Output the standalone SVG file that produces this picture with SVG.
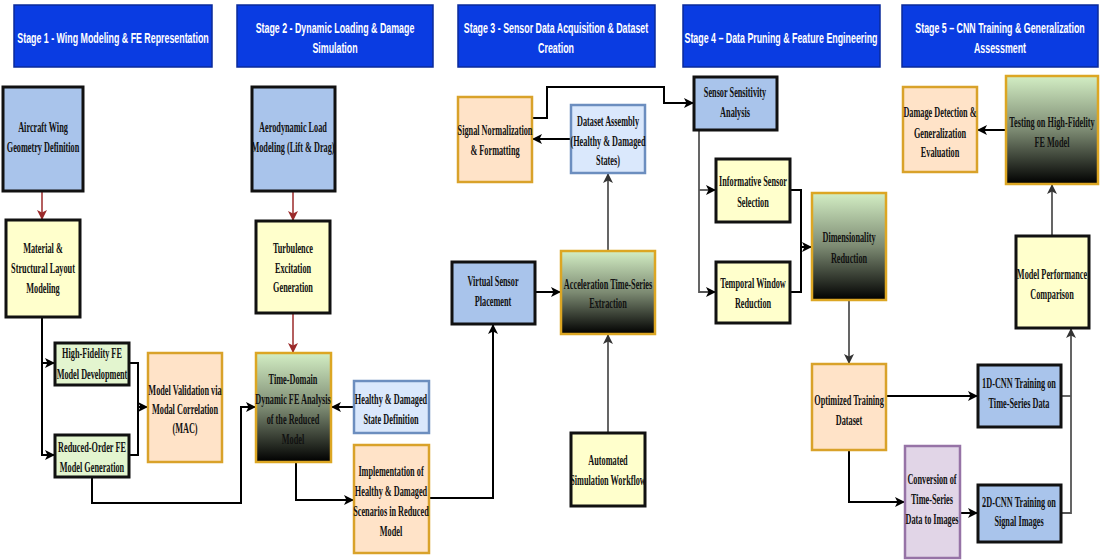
<svg xmlns="http://www.w3.org/2000/svg" width="1100" height="560" viewBox="0 0 1100 560">
<style>
.hdr{fill:#0a3ce2;stroke:#0a2a9a;stroke-width:1.5}
.ht{font-family:"Liberation Sans",Arial,sans-serif;font-weight:bold;font-size:15px;fill:#fff;text-anchor:middle}
.t{font-family:"Liberation Serif","Times New Roman",serif;font-weight:bold;font-size:15px;fill:#111;text-anchor:middle}
.blue{fill:#a9c4eb;stroke:#111;stroke-width:3}
.yel{fill:#ffffcc;stroke:#111;stroke-width:3}
.grn{fill:#e3f5cf;stroke:#111;stroke-width:3}
.peach{fill:#ffe3c8;stroke:#d9a22a;stroke-width:2.5}
.lblue{fill:#dae8fc;stroke:#6c8ebf;stroke-width:2.5}
.purp{fill:#e1d5e7;stroke:#9673a6;stroke-width:2.5}
.grad{fill:url(#g1);stroke:#dca623;stroke-width:2.5}
.c{fill:none;stroke:#000;stroke-width:2}
.cg{fill:none;stroke:#555;stroke-width:1.8}
.cr{fill:none;stroke:#9b2a2a;stroke-width:1.5}
</style>
<defs>
<linearGradient id="g1" x1="0" y1="0" x2="0" y2="1">
<stop offset="0" stop-color="#d3eec4"/>
<stop offset="0.5" stop-color="#7c8a72"/>
<stop offset="1" stop-color="#000"/>
</linearGradient>
<marker id="ab" markerUnits="userSpaceOnUse" markerWidth="11" markerHeight="11" refX="10" refY="5.5" orient="auto"><path d="M0,0.5 L10,5.5 L0,10.5 L2.5,5.5 z" fill="#000"/></marker>
<marker id="ag" markerUnits="userSpaceOnUse" markerWidth="11" markerHeight="11" refX="10" refY="5.5" orient="auto"><path d="M0,0.5 L10,5.5 L0,10.5 L2.5,5.5 z" fill="#333"/></marker>
<marker id="ar" markerUnits="userSpaceOnUse" markerWidth="11" markerHeight="11" refX="10" refY="5.5" orient="auto"><path d="M0,0.5 L10,5.5 L0,10.5 L2.5,5.5 z" fill="#9b2a2a"/></marker>
</defs>
<rect width="1100" height="560" fill="#fff"/>

<g id="headers">
<g id="h1"><rect class="hdr" x="14" y="5" width="198" height="62"/><text class="ht" transform="translate(113,0) scale(0.59,1)"><tspan x="0" y="43">Stage 1 - Wing Modeling &amp; FE Representation</tspan></text></g>
<g id="h2"><rect class="hdr" x="237" y="5" width="196" height="62"/><text class="ht" transform="translate(335,0) scale(0.59,1)"><tspan x="0" y="33">Stage 2 - Dynamic Loading &amp; Damage</tspan><tspan x="0" y="53">Simulation</tspan></text></g>
<g id="h3"><rect class="hdr" x="458" y="5" width="197" height="62"/><text class="ht" transform="translate(556,0) scale(0.59,1)"><tspan x="0" y="33">Stage 3 - Sensor Data Acquisition &amp; Dataset</tspan><tspan x="0" y="53">Creation</tspan></text></g>
<g id="h4"><rect class="hdr" x="683" y="5" width="197" height="62"/><text class="ht" transform="translate(781,0) scale(0.59,1)"><tspan x="0" y="43">Stage 4 – Data Pruning &amp; Feature Engineering</tspan></text></g>
<g id="h5"><rect class="hdr" x="902" y="5" width="196" height="62"/><text class="ht" transform="translate(1000,0) scale(0.59,1)"><tspan x="0" y="33">Stage 5 – CNN Training &amp; Generalization</tspan><tspan x="0" y="53">Assessment</tspan></text></g>
</g>

<g id="connectors">
<path class="cr" d="M42,191 V220" marker-end="url(#ar)"/>
<path class="cr" d="M293,191 V221" marker-end="url(#ar)"/>
<path class="cr" d="M293,313 V353" marker-end="url(#ar)"/>
<path class="c" d="M42,317 V455 H55" marker-end="url(#ab)"/>
<path class="c" d="M42,363 H55" marker-end="url(#ab)"/>
<path class="c" d="M129,363 H138 V455 H129"/>
<path class="c" d="M138,407 H148" marker-end="url(#ab)"/>
<path class="c" d="M92,477 V503 H241 V407 H256" marker-end="url(#ab)"/>
<path class="c" d="M354,407 H331" marker-end="url(#ab)"/>
<path class="c" d="M296,462 V500 H354" marker-end="url(#ab)"/>
<path class="c" d="M429,498 H493 V324" marker-end="url(#ab)"/>
<path class="c" d="M535,292 H561" marker-end="url(#ab)"/>
<path class="cg" d="M608,433 V334" marker-end="url(#ag)"/>
<path class="cg" d="M608,251 V173" marker-end="url(#ag)"/>
<path class="c" d="M571,139 H532" marker-end="url(#ab)"/>
<path class="c" d="M532,118 H547 V87 H664 V103 H694" marker-end="url(#ab)"/>
<path class="cg" d="M699,130 V292 H716" marker-end="url(#ab)"/>
<path class="cg" d="M699,190 H716" marker-end="url(#ab)"/>
<path class="c" d="M790,190 H801 V292 H790"/>
<path class="c" d="M801,247 H812" marker-end="url(#ab)"/>
<path class="cg" d="M849,300 V364" marker-end="url(#ag)"/>
<path class="c" d="M886,396 H978" marker-end="url(#ab)"/>
<path class="c" d="M849,450 V502 H905" marker-end="url(#ab)"/>
<path class="c" d="M960,513 H978" marker-end="url(#ab)"/>
<path class="cg" d="M1061,396 H1071"/>
<path class="cg" d="M1061,513 H1071 V328" marker-end="url(#ag)"/>
<path class="cg" d="M1052,236 V184" marker-end="url(#ag)"/>
<path class="c" d="M1006,130 H977" marker-end="url(#ab)"/>
</g>

<g id="n_wing"><rect class="blue" x="3" y="87" width="80" height="104"/><text class="t" transform="translate(43,0) scale(0.55,1)"><tspan x="0" y="132">Aircraft Wing</tspan><tspan x="0" y="152">Geometry Definition</tspan></text></g>
<g id="n_material"><rect class="yel" x="6" y="220" width="74" height="97"/><text class="t" transform="translate(43,0) scale(0.55,1)"><tspan x="0" y="253">Material &amp;</tspan><tspan x="0" y="273">Structural Layout</tspan><tspan x="0" y="293">Modeling</tspan></text></g>
<g id="n_hifi"><rect class="grn" x="55" y="343" width="74" height="42"/><text class="t" transform="translate(92,0) scale(0.55,1)"><tspan x="0" y="358">High-Fidelity FE</tspan><tspan x="0" y="379">Model Development</tspan></text></g>
<g id="n_reduced"><rect class="grn" x="55" y="435" width="74" height="42"/><text class="t" transform="translate(92,0) scale(0.55,1)"><tspan x="0" y="452">Reduced-Order FE</tspan><tspan x="0" y="472">Model Generation</tspan></text></g>
<g id="n_mac"><rect class="peach" x="148" y="353" width="74" height="109"/><text class="t" transform="translate(185,0) scale(0.55,1)"><tspan x="0" y="395">Model Validation via</tspan><tspan x="0" y="414">Modal Correlation</tspan><tspan x="0" y="433">(MAC)</tspan></text></g>
<g id="n_aero"><rect class="blue" x="252" y="87" width="83" height="104"/><text class="t" transform="translate(293,0) scale(0.55,1)"><tspan x="0" y="132">Aerodynamic Load</tspan><tspan x="0" y="152">Modeling (Lift &amp; Drag)</tspan></text></g>
<g id="n_turb"><rect class="yel" x="256" y="221" width="74" height="92"/><text class="t" transform="translate(293,0) scale(0.55,1)"><tspan x="0" y="253">Turbulence</tspan><tspan x="0" y="273">Excitation</tspan><tspan x="0" y="292">Generation</tspan></text></g>
<g id="n_timedomain"><rect class="grad" x="256" y="353" width="75" height="109"/><text class="t" transform="translate(293,0) scale(0.55,1)"><tspan x="0" y="384">Time-Domain</tspan><tspan x="0" y="404">Dynamic FE Analysis</tspan><tspan x="0" y="424">of the Reduced</tspan><tspan x="0" y="444">Model</tspan></text></g>
<g id="n_hdstate"><rect class="lblue" x="354" y="381" width="75" height="52"/><text class="t" transform="translate(391,0) scale(0.55,1)"><tspan x="0" y="404">Healthy &amp; Damaged</tspan><tspan x="0" y="424">State Definition</tspan></text></g>
<g id="n_impl"><rect class="peach" x="354" y="445" width="75" height="108"/><text class="t" transform="translate(391,0) scale(0.55,1)"><tspan x="0" y="476">Implementation of</tspan><tspan x="0" y="496">Healthy &amp; Damaged</tspan><tspan x="0" y="516">Scenarios in Reduced</tspan><tspan x="0" y="536">Model</tspan></text></g>
<g id="n_signorm"><rect class="peach" x="458" y="97" width="74" height="85"/><text class="t" transform="translate(495,0) scale(0.55,1)"><tspan x="0" y="135">Signal Normalization</tspan><tspan x="0" y="155">&amp; Formatting</tspan></text></g>
<g id="n_dataset"><rect class="lblue" x="571" y="105" width="74" height="68"/><text class="t" transform="translate(608,0) scale(0.55,1)"><tspan x="0" y="126">Dataset Assembly</tspan><tspan x="0" y="146">(Healthy &amp; Damaged</tspan><tspan x="0" y="165">States)</tspan></text></g>
<g id="n_virtual"><rect class="blue" x="452" y="262" width="83" height="62"/><text class="t" transform="translate(493,0) scale(0.55,1)"><tspan x="0" y="286">Virtual Sensor</tspan><tspan x="0" y="306">Placement</tspan></text></g>
<g id="n_accel"><rect class="grad" x="561" y="251" width="94" height="83"/><text class="t" transform="translate(608,0) scale(0.55,1)"><tspan x="0" y="289">Acceleration Time-Series</tspan><tspan x="0" y="308">Extraction</tspan></text></g>
<g id="n_auto"><rect class="yel" x="571" y="433" width="74" height="73"/><text class="t" transform="translate(608,0) scale(0.55,1)"><tspan x="0" y="465">Automated</tspan><tspan x="0" y="485">Simulation Workflow</tspan></text></g>
<g id="n_sens"><rect class="blue" x="694" y="77" width="83" height="53"/><text class="t" transform="translate(735,0) scale(0.55,1)"><tspan x="0" y="97">Sensor Sensitivity</tspan><tspan x="0" y="117">Analysis</tspan></text></g>
<g id="n_inform"><rect class="yel" x="716" y="159" width="74" height="63"/><text class="t" transform="translate(753,0) scale(0.55,1)"><tspan x="0" y="186">Informative Sensor</tspan><tspan x="0" y="207">Selection</tspan></text></g>
<g id="n_temporal"><rect class="yel" x="716" y="262" width="74" height="61"/><text class="t" transform="translate(753,0) scale(0.55,1)"><tspan x="0" y="288">Temporal Window</tspan><tspan x="0" y="308">Reduction</tspan></text></g>
<g id="n_dimred"><rect class="grad" x="812" y="193" width="74" height="107"/><text class="t" transform="translate(849,0) scale(0.55,1)"><tspan x="0" y="242">Dimensionality</tspan><tspan x="0" y="263">Reduction</tspan></text></g>
<g id="n_optim"><rect class="peach" x="812" y="364" width="74" height="86"/><text class="t" transform="translate(849,0) scale(0.55,1)"><tspan x="0" y="405">Optimized Training</tspan><tspan x="0" y="425">Dataset</tspan></text></g>
<g id="n_1dcnn"><rect class="blue" x="978" y="365" width="83" height="62"/><text class="t" transform="translate(1019,0) scale(0.55,1)"><tspan x="0" y="388">1D-CNN Training on</tspan><tspan x="0" y="408">Time-Series Data</tspan></text></g>
<g id="n_conv"><rect class="purp" x="905" y="446" width="55" height="112"/><text class="t" transform="translate(932,0) scale(0.55,1)"><tspan x="0" y="484">Conversion of</tspan><tspan x="0" y="504">Time-Series</tspan><tspan x="0" y="524">Data to Images</tspan></text></g>
<g id="n_2dcnn"><rect class="blue" x="978" y="485" width="83" height="57"/><text class="t" transform="translate(1019,0) scale(0.55,1)"><tspan x="0" y="507">2D-CNN Training on</tspan><tspan x="0" y="526">Signal Images</tspan></text></g>
<g id="n_dmgdet"><rect class="peach" x="903" y="87" width="74" height="85"/><text class="t" transform="translate(940,0) scale(0.55,1)"><tspan x="0" y="117">Damage Detection &amp;</tspan><tspan x="0" y="138">Generalization</tspan><tspan x="0" y="157">Evaluation</tspan></text></g>
<g id="n_testing"><rect class="grad" x="1006" y="76" width="92" height="108"/><text class="t" transform="translate(1052,0) scale(0.55,1)"><tspan x="0" y="127">Testing on High-Fidelity</tspan><tspan x="0" y="147">FE Model</tspan></text></g>
<g id="n_modelperf"><rect class="yel" x="1016" y="236" width="73" height="92"/><text class="t" transform="translate(1052,0) scale(0.55,1)"><tspan x="0" y="279">Model Performance</tspan><tspan x="0" y="299">Comparison</tspan></text></g>
</svg>
